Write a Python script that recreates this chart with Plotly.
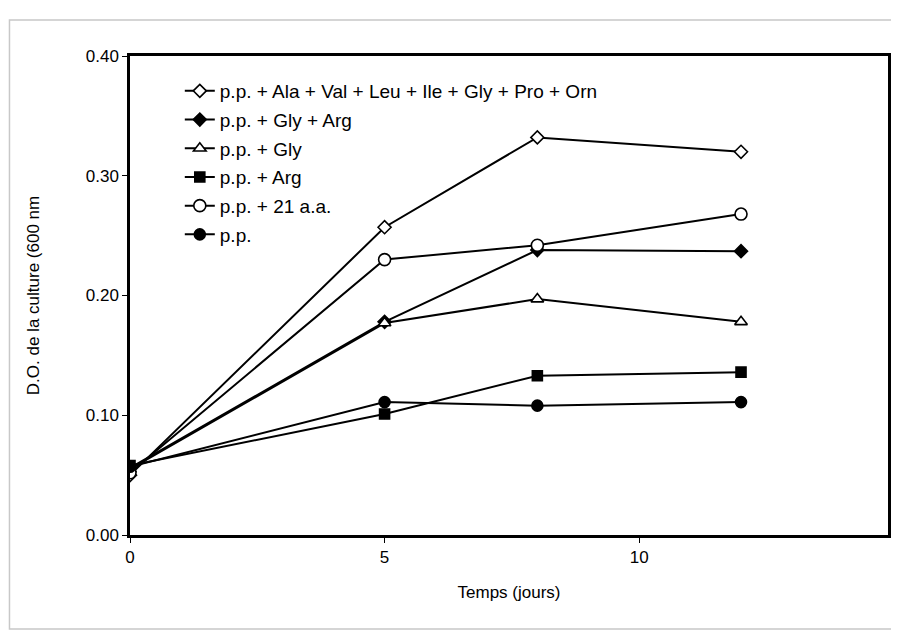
import plotly.graph_objects as go

days = [0, 5, 8, 12]

names = [
    "p.p. + Ala + Val + Leu + Ile + Gly + Pro + Orn",
    "p.p. + Gly + Arg",
    "p.p. + Gly",
    "p.p. + Arg",
    "p.p. + 21 a.a.",
    "p.p.",
]

od_ala_mix = [0.050, 0.257, 0.332, 0.320]
od_gly_arg = [0.056, 0.178, 0.238, 0.237]
od_gly = [0.055, 0.177, 0.197, 0.178]
od_arg = [0.058, 0.101, 0.133, 0.136]
od_21aa = [0.052, 0.230, 0.242, 0.268]
od_pp = [0.057, 0.111, 0.108, 0.111]

series = [od_ala_mix, od_gly_arg, od_gly, od_arg, od_21aa, od_pp]
symbols = ["diamond", "diamond", "triangle-up", "square", "circle", "circle"]
fills = ["white", "black", "white", "black", "white", "black"]
sizes = [10, 10, 11, 10, 12, 11]

x_ticks = [0, 5, 10, 15]
y_ticks = [0.0, 0.1, 0.2, 0.3, 0.4]
y_tick_text = ["0.00", "0.10", "0.20", "0.30", "0.40"]

# page body adds an 8px offset; figure sized to fit the window without scrollbars
W, H = 883, 623
L, T = 122, 48
B_EDGE = 527
plot_w = W - L
plot_h = B_EDGE - T
px_per_day = 255.6 / 5
x_max = plot_w / px_per_day

fig = go.Figure()
for i, (nm, vals, sym, fc, sz) in enumerate(zip(names, series, symbols, fills, sizes)):
    fig.add_trace(go.Scatter(
        x=days, y=vals, name=nm, mode="lines+markers",
        legendgroup=f"g{i}",
        line=dict(color="black", width=2),
        marker=dict(symbol=sym, size=sz, color=fc,
                    line=dict(color="black", width=1.6)),
    ))

font_family = "Liberation Sans, Arial, sans-serif"

fig.update_layout(
    width=W, height=H,
    margin=dict(l=L, r=0, t=T, b=H - B_EDGE),
    paper_bgcolor="white", plot_bgcolor="white",
    font=dict(family=font_family, color="black", size=17),
    showlegend=True,
    legend=dict(
        x=50 / plot_w, y=1 - 16 / plot_h, xanchor="left", yanchor="top",
        bgcolor="rgba(0,0,0,0)", borderwidth=0,
        font=dict(size=19, family=font_family),
        tracegroupgap=1, traceorder="grouped",
        itemwidth=30,
    ),
    xaxis=dict(
        range=[0, x_max], tickvals=x_ticks, ticktext=[str(v) for v in x_ticks],
        showgrid=False, zeroline=False,
        showline=True, linecolor="black", linewidth=2.5, mirror=True,
        ticks="outside", ticklen=5, tickcolor="black",
        tickfont=dict(size=17),
        title=dict(text="Temps (jours)", font=dict(size=17), standoff=20),
    ),
    yaxis=dict(
        range=[0, 0.4], tickvals=y_ticks, ticktext=y_tick_text,
        showgrid=False, zeroline=False,
        showline=True, linecolor="black", linewidth=2.5, mirror=True,
        ticks="outside", ticklen=5, tickcolor="black",
        tickfont=dict(size=17),
        title=dict(text="D.O. de la culture (600 nm", font=dict(size=17), standoff=42),
    ),
    shapes=[dict(type="rect", xref="paper", yref="paper",
                 x0=(1 - L) / plot_w, x1=1.05,
                 y0=-(H - 2 - B_EDGE) / plot_h, y1=1 + (T - 12) / plot_h,
                 line=dict(color="#c8c8c8", width=1.5), layer="below")],
)

fig.write_html("out.html")
